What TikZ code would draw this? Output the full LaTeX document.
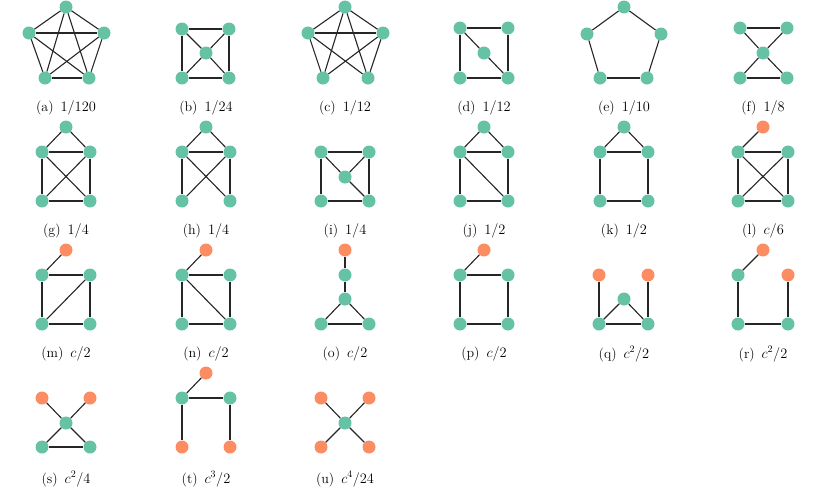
\documentclass[tikz,border=0pt]{standalone}
\usepackage{tikz}
\usetikzlibrary{positioning}
\definecolor{gr}{HTML}{66C2A5}
\definecolor{og}{HTML}{FC8D62}
\tikzset{
    vg/.style={circle, fill=gr, inner sep=0pt, minimum size=13pt},
    vo/.style={circle, fill=og, inner sep=0pt, minimum size=13pt},
    conn/.style={line width=1.1pt, black!85},
    sublabel/.style={font=\fontsize{14}{16}\selectfont}
}
\newcommand{\sublab}[3]{\node[sublabel] (#1) at #2 {(#1)\hspace{0.5em}#3};}
\begin{document}
\begin{tikzpicture}[x=1pt,y=-1pt]
    \useasboundingbox (0,0) rectangle (830,488);
    % row 1
    \node[vg] (a1) at (66,7) {};
    \node[vg] (a2) at (29,33) {};
    \node[vg] (a3) at (104,33) {};
    \node[vg] (a4) at (45,78) {};
    \node[vg] (a5) at (89,78) {};
    \foreach \p/\q in {a1/a2,a1/a3,a1/a4,a1/a5,a2/a3,a2/a4,a2/a5,a3/a4,a3/a5,a4/a5}
        \draw[conn] (\p) -- (\q);
    \sublab{a}{(66,108)}{$1/120$}
    \node[vg] (b1) at (182,29) {};
    \node[vg] (b2) at (229,29) {};
    \node[vg] (b3) at (182,78) {};
    \node[vg] (b4) at (229,78) {};
    \node[vg] (b5) at (206,53) {};
    \foreach \p/\q in {b1/b2,b1/b3,b2/b4,b3/b4,b1/b5,b2/b5,b3/b5,b4/b5}
        \draw[conn] (\p) -- (\q);
    \sublab{b}{(206,108)}{$1/24$}
    \node[vg] (c1) at (345,7) {};
    \node[vg] (c2) at (308,33) {};
    \node[vg] (c3) at (383,33) {};
    \node[vg] (c4) at (323,78) {};
    \node[vg] (c5) at (368,78) {};
    \foreach \p/\q in {c1/c2,c1/c3,c1/c4,c1/c5,c2/c3,c2/c4,c2/c5,c3/c4,c3/c5}
        \draw[conn] (\p) -- (\q);
    \sublab{c}{(345,108)}{$1/12$}
    \node[vg] (d1) at (460,28) {};
    \node[vg] (d2) at (508,28) {};
    \node[vg] (d3) at (460,78) {};
    \node[vg] (d4) at (508,78) {};
    \node[vg] (d5) at (484,53) {};
    \foreach \p/\q in {d1/d2,d1/d3,d2/d4,d3/d4,d1/d5,d5/d4}
        \draw[conn] (\p) -- (\q);
    \sublab{d}{(484,108)}{$1/12$}
    \node[vg] (e1) at (624,7) {};
    \node[vg] (e2) at (587,34) {};
    \node[vg] (e3) at (661,34) {};
    \node[vg] (e4) at (600,78) {};
    \node[vg] (e5) at (647,78) {};
    \foreach \p/\q in {e1/e2,e1/e3,e2/e4,e3/e5,e4/e5}
        \draw[conn] (\p) -- (\q);
    \sublab{e}{(624,108)}{$1/10$}
    \node[vg] (f1) at (740,28) {};
    \node[vg] (f2) at (787,28) {};
    \node[vg] (f3) at (740,78) {};
    \node[vg] (f4) at (787,78) {};
    \node[vg] (f5) at (763,53) {};
    \foreach \p/\q in {f1/f2,f1/f5,f2/f5,f5/f3,f5/f4,f3/f4}
        \draw[conn] (\p) -- (\q);
    \sublab{f}{(763,108)}{$1/8$}
    % row 2
    \node[vg] (g1) at (66,127) {};
    \node[vg] (g2) at (42,152) {};
    \node[vg] (g3) at (90,152) {};
    \node[vg] (g4) at (42,201) {};
    \node[vg] (g5) at (90,201) {};
    \foreach \p/\q in {g1/g2,g1/g3,g2/g3,g2/g4,g3/g5,g4/g5,g2/g5,g3/g4}
        \draw[conn] (\p) -- (\q);
    \sublab{g}{(66,231)}{$1/4$}
    \node[vg] (h1) at (206,127) {};
    \node[vg] (h2) at (182,152) {};
    \node[vg] (h3) at (230,152) {};
    \node[vg] (h4) at (182,201) {};
    \node[vg] (h5) at (230,201) {};
    \foreach \p/\q in {h1/h2,h1/h3,h2/h3,h2/h4,h3/h5,h2/h5,h3/h4}
        \draw[conn] (\p) -- (\q);
    \sublab{h}{(206,231)}{$1/4$}
    \node[vg] (i1) at (321,152) {};
    \node[vg] (i2) at (369,152) {};
    \node[vg] (i3) at (321,201) {};
    \node[vg] (i4) at (369,201) {};
    \node[vg] (i5) at (345,177) {};
    \foreach \p/\q in {i1/i2,i1/i3,i2/i4,i3/i4,i1/i5,i2/i5,i5/i4}
        \draw[conn] (\p) -- (\q);
    \sublab{i}{(345,231)}{$1/4$}
    \node[vg] (j1) at (484,127) {};
    \node[vg] (j2) at (460,152) {};
    \node[vg] (j3) at (508,152) {};
    \node[vg] (j4) at (460,201) {};
    \node[vg] (j5) at (508,201) {};
    \foreach \p/\q in {j1/j2,j1/j3,j2/j3,j2/j4,j3/j5,j4/j5,j2/j5}
        \draw[conn] (\p) -- (\q);
    \sublab{j}{(484,231)}{$1/2$}
    \node[vg] (k1) at (624,127) {};
    \node[vg] (k2) at (600,152) {};
    \node[vg] (k3) at (648,152) {};
    \node[vg] (k4) at (600,201) {};
    \node[vg] (k5) at (648,201) {};
    \foreach \p/\q in {k1/k2,k1/k3,k2/k3,k2/k4,k3/k5,k4/k5}
        \draw[conn] (\p) -- (\q);
    \sublab{k}{(624,231)}{$1/2$}
    \node[vo] (l1) at (763,127) {};
    \node[vg] (l2) at (738,152) {};
    \node[vg] (l3) at (788,152) {};
    \node[vg] (l4) at (738,201) {};
    \node[vg] (l5) at (788,201) {};
    \foreach \p/\q in {l1/l2,l2/l3,l2/l4,l3/l5,l4/l5,l2/l5,l3/l4}
        \draw[conn] (\p) -- (\q);
    \sublab{l}{(763,231)}{$c/6$}
    % row 3
    \node[vo] (m1) at (66,250) {};
    \node[vg] (m2) at (42,275) {};
    \node[vg] (m3) at (90,275) {};
    \node[vg] (m4) at (42,324) {};
    \node[vg] (m5) at (90,324) {};
    \foreach \p/\q in {m1/m2,m2/m3,m2/m4,m3/m5,m4/m5,m4/m3}
        \draw[conn] (\p) -- (\q);
    \sublab{m}{(66,354)}{$c/2$}
    \node[vo] (n1) at (206,250) {};
    \node[vg] (n2) at (182,275) {};
    \node[vg] (n3) at (230,275) {};
    \node[vg] (n4) at (182,324) {};
    \node[vg] (n5) at (230,324) {};
    \foreach \p/\q in {n1/n2,n2/n3,n2/n4,n3/n5,n4/n5,n2/n5}
        \draw[conn] (\p) -- (\q);
    \sublab{n}{(206,354)}{$c/2$}
    \node[vo] (o1) at (345,250) {};
    \node[vg] (o2) at (345,275) {};
    \node[vg] (o3) at (345,299) {};
    \node[vg] (o4) at (321,324) {};
    \node[vg] (o5) at (369,324) {};
    \foreach \p/\q in {o1/o2,o2/o3,o3/o4,o3/o5,o4/o5}
        \draw[conn] (\p) -- (\q);
    \sublab{o}{(345,354)}{$c/2$}
    \node[vo] (p1) at (484,250) {};
    \node[vg] (p2) at (460,275) {};
    \node[vg] (p3) at (508,275) {};
    \node[vg] (p4) at (460,324) {};
    \node[vg] (p5) at (508,324) {};
    \foreach \p/\q in {p1/p2,p2/p3,p2/p4,p3/p5,p4/p5}
        \draw[conn] (\p) -- (\q);
    \sublab{p}{(484,354)}{$c/2$}
    \node[vo] (q1) at (599,275) {};
    \node[vo] (q2) at (648,275) {};
    \node[vg] (q3) at (624,299) {};
    \node[vg] (q4) at (599,324) {};
    \node[vg] (q5) at (648,324) {};
    \foreach \p/\q in {q1/q4,q2/q5,q4/q3,q3/q5,q4/q5}
        \draw[conn] (\p) -- (\q);
    \sublab{q}{(624,354)}{$c^2/2$}
    \node[vo] (r1) at (763,250) {};
    \node[vg] (r2) at (738,275) {};
    \node[vo] (r3) at (788,275) {};
    \node[vg] (r4) at (738,324) {};
    \node[vg] (r5) at (788,324) {};
    \foreach \p/\q in {r1/r2,r2/r4,r4/r5,r5/r3}
        \draw[conn] (\p) -- (\q);
    \sublab{r}{(763,354)}{$c^2/2$}
    % row 4
    \node[vo] (s1) at (42,398) {};
    \node[vo] (s2) at (90,398) {};
    \node[vg] (s3) at (66,423) {};
    \node[vg] (s4) at (42,447) {};
    \node[vg] (s5) at (90,447) {};
    \foreach \p/\q in {s1/s3,s2/s3,s3/s4,s3/s5,s4/s5}
        \draw[conn] (\p) -- (\q);
    \sublab{s}{(66,479)}{$c^2/4$}
    \node[vo] (t1) at (206,373) {};
    \node[vg] (t2) at (182,398) {};
    \node[vg] (t3) at (230,398) {};
    \node[vo] (t4) at (182,447) {};
    \node[vo] (t5) at (230,447) {};
    \foreach \p/\q in {t1/t2,t2/t3,t2/t4,t3/t5}
        \draw[conn] (\p) -- (\q);
    \sublab{t}{(206,479)}{$c^3/2$}
    \node[vo] (u1) at (321,398) {};
    \node[vo] (u2) at (369,398) {};
    \node[vg] (u3) at (345,423) {};
    \node[vo] (u4) at (321,447) {};
    \node[vo] (u5) at (369,447) {};
    \foreach \p/\q in {u1/u3,u2/u3,u3/u4,u3/u5}
        \draw[conn] (\p) -- (\q);
    \sublab{u}{(345,479)}{$c^4/24$}
\end{tikzpicture}
\end{document}
